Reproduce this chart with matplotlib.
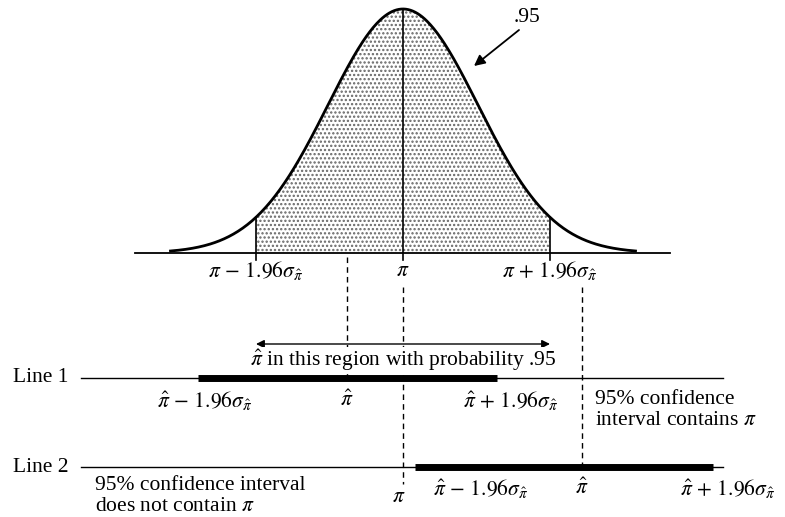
import numpy as np
import matplotlib.pyplot as plt

# %% datos (escala en unidades de error estandar, pi = 0)

pi_true = 0.0
z95 = 1.96
peak = 244          # altura de la campana
z_tail = 3.1
base_ext = [-3.57, 3.56]

pihat = [-0.75, 2.39]      # estimaciones de Line 1 y Line 2
ci_lo = [-2.73, 0.16]
ci_hi = [1.25, 4.13]
line_ext = [-4.29, 4.27]
line_names = ['Line 1', 'Line 2']

# %% figura

plt.rcParams['font.family'] = ['Liberation Serif', 'DejaVu Serif']
plt.rcParams['mathtext.fontset'] = 'stix'
plt.rcParams['hatch.linewidth'] = 1.1
plt.rcParams['hatch.color'] = '0.4'
fs = 15.5

fig = plt.figure(figsize=(7.85, 5.17), dpi=100)
ax = fig.add_axes([0, 0, 1, 1])
ax.set_xlim(-403/75, 382/75)
ax.set_ylim(517, 0)
ax.axis('off')

y0 = 253   # eje de la campana
yl = [378, 467]   # lineas 1 y 2

z = np.linspace(-z_tail, z_tail, 400)
f = y0 - peak*np.exp(-z**2/2)
zz = np.linspace(-z95, z95, 300)
ff = y0 - peak*np.exp(-zz**2/2)
ax.fill_between(zz, ff, y0, facecolor='white', edgecolor='0.4', hatch='....', linewidth=0)
ax.plot(z, f, color='k', lw=2)
ax.plot(base_ext, [y0, y0], color='k', lw=1.3)
for xv in [-z95, z95]:
    ax.plot([xv, xv], [y0 + 7, y0 - peak*np.exp(-xv**2/2)], color='k', lw=1.2)
ax.plot([pi_true, pi_true], [y0 + 7, y0 - peak], color='k', lw=1.2)

# .95
ax.text((527 - 403)/75, 17, '.95', fontsize=fs, ha='center', va='center')
ax.annotate('', xy=((474 - 403)/75, 66), xytext=((519 - 403)/75, 30),
            arrowprops=dict(arrowstyle='-|>', color='k', lw=1.3, mutation_scale=16,
                            shrinkA=0, shrinkB=0))

# etiquetas del eje
ax.text(-z95, 271, r'$\pi\,-\,1.96\sigma_{\hat{\pi}}$', fontsize=fs, ha='center', va='center')
ax.text(pi_true, 271, r'$\pi$', fontsize=fs, ha='center', va='center')
ax.text(z95, 271, r'$\pi\,+\,1.96\sigma_{\hat{\pi}}$', fontsize=fs, ha='center', va='center')

# lineas punteadas
dash = dict(color='k', lw=1, ls=(0, (4, 3)))
ax.plot([pihat[0], pihat[0]], [y0 + 4, yl[0]], **dash)
ax.plot([pi_true, pi_true], [287, 484], **dash)
ax.plot([pihat[1], pihat[1]], [287, yl[1]], **dash)

# region con probabilidad .95
ax.annotate('', xy=(-z95, 344), xytext=(z95, 344),
            arrowprops=dict(arrowstyle='<|-|>', color='k', lw=1, mutation_scale=12,
                            shrinkA=0, shrinkB=0))
ax.text(pi_true, 360, r'$\hat{\pi}$ in this region with probability .95', fontsize=fs,
        ha='center', va='center', zorder=5,
        bbox=dict(facecolor='white', edgecolor='none', pad=0.5))

# intervalos
for i in range(2):
    ax.plot(line_ext, [yl[i], yl[i]], color='k', lw=1)
    ax.plot([ci_lo[i], ci_hi[i]], [yl[i], yl[i]], color='k', lw=5, solid_capstyle='butt')
    ax.text(-4.46, yl[i], line_names[i], fontsize=fs, ha='right', va='center')

ax.text(ci_lo[0] + 0.08, 401, r'$\hat{\pi}\,-\,1.96\sigma_{\hat{\pi}}$', fontsize=fs, ha='center', va='center')
ax.text(pihat[0], 401, r'$\hat{\pi}$', fontsize=fs, ha='center', va='center')
ax.text(ci_hi[0] + 0.18, 401, r'$\hat{\pi}\,+\,1.96\sigma_{\hat{\pi}}$', fontsize=fs, ha='center', va='center')
ax.text(2.56, 410, '95% confidence\ninterval contains $\\pi$', fontsize=fs,
        ha='left', va='center', linespacing=1.1)

ax.text(-0.06, 497, r'$\pi$', fontsize=fs, ha='center', va='center')
ax.text(ci_lo[1] + 0.88, 489, r'$\hat{\pi}\,-\,1.96\sigma_{\hat{\pi}}$', fontsize=fs, ha='center', va='center')
ax.text(pihat[1], 489, r'$\hat{\pi}$', fontsize=fs, ha='center', va='center')
ax.text(ci_hi[1] + 0.2, 489, r'$\hat{\pi}\,+\,1.96\sigma_{\hat{\pi}}$', fontsize=fs, ha='center', va='center')
ax.text(-4.1, 496, '95% confidence interval\ndoes not contain $\\pi$', fontsize=fs,
        ha='left', va='center', linespacing=1.1)

fig.savefig('out.png', dpi=100)
